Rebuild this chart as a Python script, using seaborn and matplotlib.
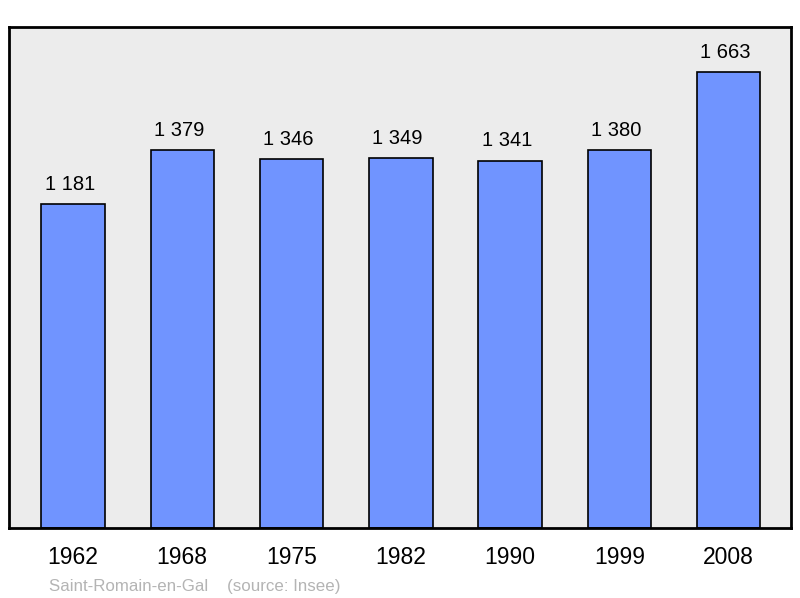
import pandas as pd
import matplotlib
matplotlib.use("Agg")
import matplotlib.pyplot as plt
import seaborn as sns

years = ["1962", "1968", "1975", "1982", "1990", "1999", "2008"]
population = [1181, 1379, 1346, 1349, 1341, 1380, 1663]
labels = ["1 181", "1 379", "1 346", "1 349", "1 341", "1 380", "1 663"]

df = pd.DataFrame({"annee": years, "pop": population})

sns.set_style("white")
plt.rcParams["font.family"] = ["Liberation Sans", "DejaVu Sans"]

fig = plt.figure(figsize=(8, 5.98), dpi=100)
ax = fig.add_axes([0.01125, 0.117, 0.9775, 0.838])
ax.set_facecolor("#ececec")

sns.barplot(data=df, x="annee", y="pop", color="#7094ff", saturation=1,
            width=0.58, edgecolor="black", linewidth=1.2, ax=ax)

for i, (v, t) in enumerate(zip(population, labels)):
    ax.text(i - 0.03, v + 37, t, ha="center", va="bottom", fontsize=14.5, color="black")

ax.set_xlim(-0.585, 6.57)
ax.set_ylim(0, 1829)
ax.set_yticks([])
ax.set_xlabel("")
ax.set_ylabel("")
ax.tick_params(axis="x", length=0, labelsize=16.5, pad=13, labelcolor="black")
for s in ax.spines.values():
    s.set_visible(True)
    s.set_color("black")
    s.set_linewidth(2)

fig.text(0.061, 0.006, "Saint-Romain-en-Gal    (source: Insee)", fontsize=12.2,
         color="#b4b4b4", ha="left", va="bottom")

fig.savefig("out.png", dpi=100, facecolor="white")
